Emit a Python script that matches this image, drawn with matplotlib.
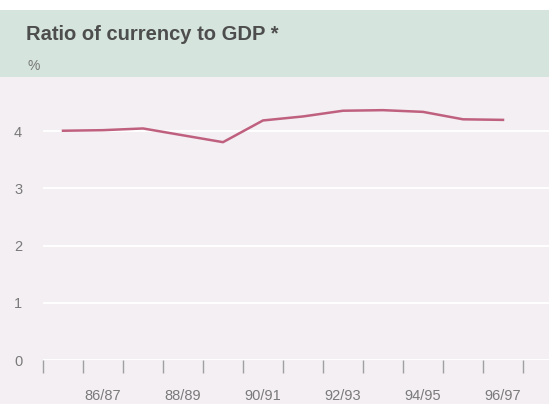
import matplotlib
matplotlib.use('Agg')
import matplotlib.pyplot as plt
from matplotlib.patches import Rectangle

plt.rcParams['font.family'] = ['Liberation Sans', 'DejaVu Sans']

# Data (financial years, end-June)
years = ['85/86', '86/87', '87/88', '88/89', '89/90', '90/91',
         '91/92', '92/93', '93/94', '94/95', '95/96', '96/97']
ratio = [4.01, 4.02, 4.05, 3.93, 3.81, 4.19, 4.26, 4.36, 4.37, 4.34, 4.21, 4.20]
label_years = ['86/87', '88/89', '90/91', '92/93', '94/95', '96/97']
y_ticks = [0, 1, 2, 3, 4]

W, H = 549, 404
fig = plt.figure(figsize=(W / 100, H / 100), dpi=100)
fig.patch.set_facecolor('#f3eff3')

# Header band
fig.patches.append(Rectangle((0, 1 - 10 / H), 1, 10 / H, transform=fig.transFigure,
                             facecolor='white', edgecolor='none', zorder=0))
fig.patches.append(Rectangle((0, 1 - 77 / H), 1, 67 / H, transform=fig.transFigure,
                             facecolor='#d5e4dc', edgecolor='none', zorder=0))
fig.text(26 / W, 1 - 35 / H, 'Ratio of currency to GDP *', fontsize=14.5,
         fontweight='bold', color='#4d4d4d', va='center', ha='left')
fig.text(27 / W, 1 - 66 / H, '%', fontsize=10, color='#777777', va='center', ha='left')

# Plot area
left, bottom = 43 / W, (H - 360) / H
ax = fig.add_axes([left, bottom, 1 - left, (360 - 77) / H])
ax.set_facecolor('none')

x = list(range(len(years)))
ax.plot(x, ratio, color='#c0607f', linewidth=1.8, solid_joinstyle='round', zorder=3)

ax.set_xlim(-0.5, 12.15)
ax.set_ylim(0, 4.95)

for v in y_ticks:
    ax.axhline(v, color='white', linewidth=1.4, zorder=1)

for s in ax.spines.values():
    s.set_visible(False)

ax.set_yticks(y_ticks)
ax.set_yticklabels([str(v) for v in y_ticks])
ax.tick_params(axis='y', length=0, pad=15, labelsize=10.5, labelcolor='#7a7a7a')

ax.set_xticks([years.index(y) for y in label_years])
ax.set_xticklabels(label_years)
ax.set_xticks([i - 0.5 for i in range(len(years) + 1)], minor=True)
ax.tick_params(axis='x', which='major', length=0, pad=21, labelsize=10.5,
               labelcolor='#7a7a7a')
ax.tick_params(axis='x', which='minor', length=9, width=1.0, color='#a0a0a0',
               direction='out')

plt.savefig('out.png', dpi=100, facecolor=fig.get_facecolor())
